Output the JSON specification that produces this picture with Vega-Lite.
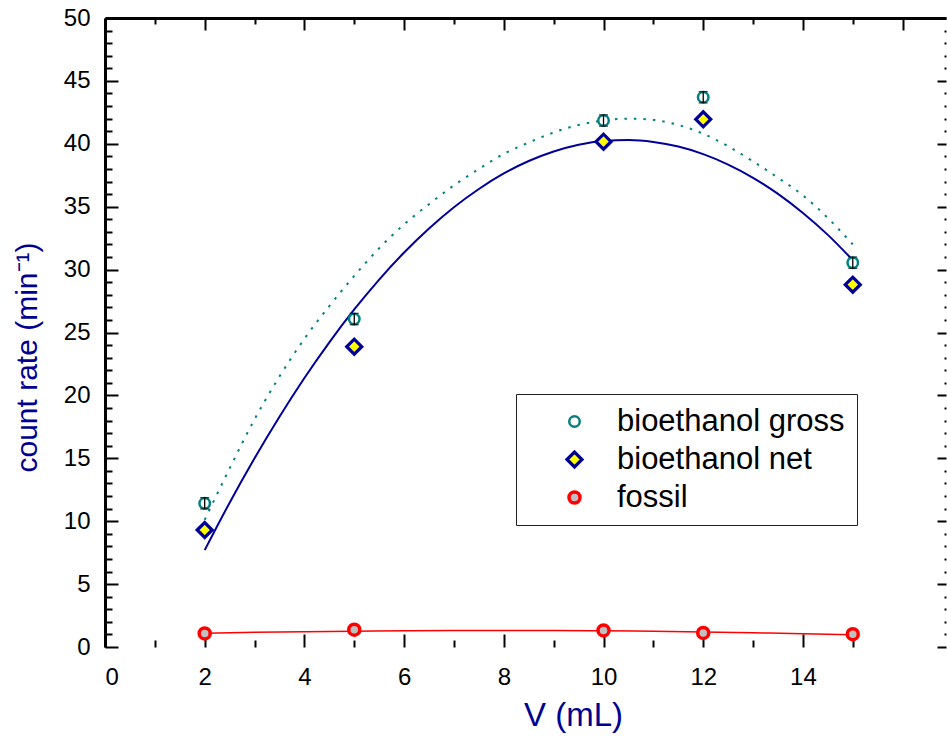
{
  "$schema": "https://vega.github.io/schema/vega-lite/v6.json",
  "width": 841,
  "height": 629,
  "autosize": {"type": "none"},
  "padding": {"left": 105, "top": 18, "right": 1, "bottom": 92},
  "background": "white",
  "config": {
    "view": {"stroke": null},
    "font": "Liberation Sans",
    "axis": {
      "grid": false,
      "domainColor": "black",
      "tickColor": "black",
      "labelColor": "black",
      "labelFont": "Liberation Sans",
      "labelFontSize": 24,
      "titleFont": "Liberation Sans",
      "titleFontWeight": "normal",
      "tickWidth": 2,
      "domainWidth": 3
    }
  },
  "datasets": {
    "points": [
      {"series": "bioethanol gross", "V": 2, "rate": 11.42, "err": 0.45},
      {"series": "bioethanol gross", "V": 5, "rate": 26.07, "err": 0.45},
      {"series": "bioethanol gross", "V": 10, "rate": 41.85, "err": 0.45},
      {"series": "bioethanol gross", "V": 12, "rate": 43.7, "err": 0.45},
      {"series": "bioethanol gross", "V": 15, "rate": 30.55, "err": 0.45},
      {"series": "bioethanol net", "V": 2, "rate": 9.3, "err": 0.4},
      {"series": "bioethanol net", "V": 5, "rate": 23.87, "err": 0.4},
      {"series": "bioethanol net", "V": 10, "rate": 40.17, "err": 0.4},
      {"series": "bioethanol net", "V": 12, "rate": 41.95, "err": 0.4},
      {"series": "bioethanol net", "V": 15, "rate": 28.8, "err": 0.4},
      {"series": "fossil", "V": 2, "rate": 1.08, "err": 0.1},
      {"series": "fossil", "V": 5, "rate": 1.38, "err": 0.1},
      {"series": "fossil", "V": 10, "rate": 1.32, "err": 0.1},
      {"series": "fossil", "V": 12, "rate": 1.12, "err": 0.1},
      {"series": "fossil", "V": 15, "rate": 1.02, "err": 0.1}
    ],
    "curves": [
      {"series": "bioethanol net", "V": 2, "rate": 7.7},
      {"series": "bioethanol net", "V": 2.5, "rate": 11.47},
      {"series": "bioethanol net", "V": 3, "rate": 15.0},
      {"series": "bioethanol net", "V": 3.5, "rate": 18.3},
      {"series": "bioethanol net", "V": 4, "rate": 21.38},
      {"series": "bioethanol net", "V": 4.5, "rate": 24.22},
      {"series": "bioethanol net", "V": 5, "rate": 26.83},
      {"series": "bioethanol net", "V": 5.5, "rate": 29.21},
      {"series": "bioethanol net", "V": 6, "rate": 31.36},
      {"series": "bioethanol net", "V": 6.5, "rate": 33.27},
      {"series": "bioethanol net", "V": 7, "rate": 34.96},
      {"series": "bioethanol net", "V": 7.5, "rate": 36.41},
      {"series": "bioethanol net", "V": 8, "rate": 37.64},
      {"series": "bioethanol net", "V": 8.5, "rate": 38.63},
      {"series": "bioethanol net", "V": 9, "rate": 39.39},
      {"series": "bioethanol net", "V": 9.5, "rate": 39.93},
      {"series": "bioethanol net", "V": 10, "rate": 40.23},
      {"series": "bioethanol net", "V": 10.5, "rate": 40.3},
      {"series": "bioethanol net", "V": 11, "rate": 40.15},
      {"series": "bioethanol net", "V": 11.5, "rate": 39.78},
      {"series": "bioethanol net", "V": 12, "rate": 39.18},
      {"series": "bioethanol net", "V": 12.5, "rate": 38.35},
      {"series": "bioethanol net", "V": 13, "rate": 37.3},
      {"series": "bioethanol net", "V": 13.5, "rate": 36.02},
      {"series": "bioethanol net", "V": 14, "rate": 34.5},
      {"series": "bioethanol net", "V": 14.5, "rate": 32.76},
      {"series": "bioethanol net", "V": 15, "rate": 30.75},
      {"series": "bioethanol gross", "V": 2, "rate": 10.1},
      {"series": "bioethanol gross", "V": 2.5, "rate": 14.2},
      {"series": "bioethanol gross", "V": 3, "rate": 18.1},
      {"series": "bioethanol gross", "V": 3.5, "rate": 21.5},
      {"series": "bioethanol gross", "V": 4, "rate": 24.5},
      {"series": "bioethanol gross", "V": 4.5, "rate": 27.1},
      {"series": "bioethanol gross", "V": 5, "rate": 29.5},
      {"series": "bioethanol gross", "V": 5.5, "rate": 31.7},
      {"series": "bioethanol gross", "V": 6, "rate": 33.6},
      {"series": "bioethanol gross", "V": 6.5, "rate": 35.2},
      {"series": "bioethanol gross", "V": 7, "rate": 36.7},
      {"series": "bioethanol gross", "V": 7.5, "rate": 38.0},
      {"series": "bioethanol gross", "V": 8, "rate": 39.2},
      {"series": "bioethanol gross", "V": 8.5, "rate": 40.1},
      {"series": "bioethanol gross", "V": 9, "rate": 40.9},
      {"series": "bioethanol gross", "V": 9.5, "rate": 41.5},
      {"series": "bioethanol gross", "V": 10, "rate": 41.85},
      {"series": "bioethanol gross", "V": 10.5, "rate": 42.0},
      {"series": "bioethanol gross", "V": 11, "rate": 41.9},
      {"series": "bioethanol gross", "V": 11.5, "rate": 41.5},
      {"series": "bioethanol gross", "V": 12, "rate": 40.8},
      {"series": "bioethanol gross", "V": 12.5, "rate": 39.8},
      {"series": "bioethanol gross", "V": 13, "rate": 38.6},
      {"series": "bioethanol gross", "V": 13.5, "rate": 37.3},
      {"series": "bioethanol gross", "V": 14, "rate": 35.9},
      {"series": "bioethanol gross", "V": 14.5, "rate": 34.1},
      {"series": "bioethanol gross", "V": 15, "rate": 32.0},
      {"series": "fossil", "V": 2, "rate": 1.1},
      {"series": "fossil", "V": 3, "rate": 1.17},
      {"series": "fossil", "V": 4, "rate": 1.22},
      {"series": "fossil", "V": 5, "rate": 1.26},
      {"series": "fossil", "V": 6, "rate": 1.29},
      {"series": "fossil", "V": 7, "rate": 1.31},
      {"series": "fossil", "V": 8, "rate": 1.32},
      {"series": "fossil", "V": 9, "rate": 1.31},
      {"series": "fossil", "V": 10, "rate": 1.29},
      {"series": "fossil", "V": 11, "rate": 1.25},
      {"series": "fossil", "V": 12, "rate": 1.2},
      {"series": "fossil", "V": 13, "rate": 1.13},
      {"series": "fossil", "V": 14, "rate": 1.06},
      {"series": "fossil", "V": 15, "rate": 0.97}
    ]
  },
  "resolve": {"axis": {"x": "independent", "y": "independent"}},
  "layer": [
    {
      "data": {"name": "curves"},
      "transform": [{"filter": "datum.series === 'bioethanol net'"}],
      "mark": {"type": "line", "color": "#000099", "strokeWidth": 2, "interpolate": "monotone"},
      "encoding": {
        "x": {
          "field": "V", "type": "quantitative",
          "scale": {"domain": [0, 16.87], "nice": false, "zero": false},
          "axis": {
            "orient": "bottom", "values": [0, 2, 4, 6, 8, 10, 12, 14],
            "tickSize": -13, "domain": false, "labelPadding": 31,
            "title": "V (mL)", "titleFontSize": 33, "titleColor": "#000090",
            "titleX": 468, "titleY": 78, "titleBaseline": "alphabetic", "titleAlign": "center"
          }
        },
        "y": {
          "field": "rate", "type": "quantitative",
          "scale": {"domain": [0, 50], "nice": false, "zero": false},
          "axis": {
            "orient": "left", "values": [0, 5, 10, 15, 20, 25, 30, 35, 40, 45, 50],
            "tickSize": -13, "domain": true, "labelPadding": 28,
            "title": "count rate (min⁻¹)", "titleFontSize": 30, "titleColor": "#000090",
            "titleX": -78, "titleY": 339, "titleAngle": 270, "titleAlign": "center", "titleBaseline": "middle"
          }
        }
      }
    },
    {
      "data": {"name": "curves"},
      "transform": [{"filter": "datum.series === 'bioethanol gross'"}],
      "mark": {"type": "line", "color": "#008080", "strokeWidth": 2, "strokeDash": [2.5, 7], "interpolate": "monotone"},
      "encoding": {
        "x": {
          "field": "V", "type": "quantitative",
          "scale": {"domain": [0, 16.87], "nice": false, "zero": false},
          "axis": {"orient": "bottom", "values": [1, 3, 5, 7, 9, 11, 13, 15], "tickSize": -7, "domain": false, "labels": false, "title": null}
        },
        "y": {
          "field": "rate", "type": "quantitative",
          "scale": {"domain": [0, 50], "nice": false, "zero": false},
          "axis": {"orient": "left", "values": [1,2,3,4,6,7,8,9,11,12,13,14,16,17,18,19,21,22,23,24,26,27,28,29,31,32,33,34,36,37,38,39,41,42,43,44,46,47,48,49], "tickSize": -7, "domain": false, "labels": false, "title": null}
        }
      }
    },
    {
      "data": {"name": "curves"},
      "transform": [{"filter": "datum.series === 'fossil'"}],
      "mark": {"type": "line", "color": "#FF0000", "strokeWidth": 1.5, "interpolate": "monotone"},
      "encoding": {
        "x": {
          "field": "V", "type": "quantitative",
          "scale": {"domain": [0, 16.87], "nice": false, "zero": false},
          "axis": {"orient": "top", "values": [0, 2, 4, 6, 8, 10, 12, 14, 16], "tickSize": -12, "domain": true, "labels": false, "title": null}
        },
        "y": {
          "field": "rate", "type": "quantitative",
          "scale": {"domain": [0, 50], "nice": false, "zero": false},
          "axis": {"orient": "right", "values": [0, 5, 10, 15, 20, 25, 30, 35, 40, 45, 50], "tickSize": -9, "domain": false, "labels": false, "title": null}
        }
      }
    },
    {
      "data": {"name": "points"},
      "mark": {"type": "point", "opacity": 1},
      "encoding": {
        "x": {
          "field": "V", "type": "quantitative",
          "scale": {"domain": [0, 16.87], "nice": false, "zero": false},
          "axis": {"orient": "top", "values": [1, 3, 5, 7, 9, 11, 13, 15], "tickSize": -6, "domain": false, "labels": false, "title": null}
        },
        "y": {
          "field": "rate", "type": "quantitative",
          "scale": {"domain": [0, 50], "nice": false, "zero": false},
          "axis": {"orient": "right", "values": [1,2,3,4,6,7,8,9,11,12,13,14,16,17,18,19,21,22,23,24,26,27,28,29,31,32,33,34,36,37,38,39,41,42,43,44,46,47,48,49], "tickSize": -2, "domain": false, "labels": false, "title": null}
        },
        "shape": {
          "field": "series", "type": "nominal",
          "scale": {"domain": ["bioethanol gross", "bioethanol net", "fossil"], "range": ["circle", "diamond", "circle"]},
          "legend": {
            "orient": "none", "legendX": 411, "legendY": 376, "title": null,
            "labelFontSize": 31, "labelFont": "Liberation Sans", "labelColor": "black", "labelLimit": 500,
            "strokeColor": "#222222", "padding": 12, "rowPadding": 6,
            "symbolOffset": 31, "labelOffset": 27, "symbolStrokeWidth": 3
          }
        },
        "fill": {
          "field": "series", "type": "nominal",
          "scale": {"domain": ["bioethanol gross", "bioethanol net", "fossil"], "range": ["#FFFFFF", "#FFFF00", "#C0C0C0"]}
        },
        "stroke": {
          "field": "series", "type": "nominal",
          "scale": {"domain": ["bioethanol gross", "bioethanol net", "fossil"], "range": ["#008080", "#000099", "#FF0000"]}
        },
        "size": {
          "field": "series", "type": "nominal",
          "scale": {"type": "ordinal", "domain": ["bioethanol gross", "bioethanol net", "fossil"], "range": [110, 225, 121]}
        },
        "strokeWidth": {
          "field": "series", "type": "nominal",
          "scale": {"type": "ordinal", "domain": ["bioethanol gross", "bioethanol net", "fossil"], "range": [2.5, 3.2, 3.5]}
        }
      }
    },
    {
      "data": {"name": "points"},
      "transform": [{"filter": "datum.series === 'bioethanol gross'"}],
      "mark": {"type": "errorbar", "ticks": {"size": 9, "color": "black", "strokeWidth": 1.3}, "color": "black", "thickness": 1.3},
      "encoding": {
        "x": {"field": "V", "type": "quantitative", "scale": {"domain": [0, 16.87], "nice": false, "zero": false}, "axis": null},
        "y": {"field": "rate", "type": "quantitative", "scale": {"domain": [0, 50], "nice": false, "zero": false}, "axis": null, "title": null},
        "yError": {"field": "err"}
      }
    },
    {
      "mark": {"type": "rule", "color": "black", "strokeWidth": 3},
      "encoding": {
        "x": {"datum": 0, "type": "quantitative", "scale": {"domain": [0, 16.87], "nice": false, "zero": false}, "axis": null},
        "x2": {"datum": 15.4},
        "y": {"datum": 0, "type": "quantitative", "scale": {"domain": [0, 50], "nice": false, "zero": false}, "axis": null}
      }
    }
  ]
}
